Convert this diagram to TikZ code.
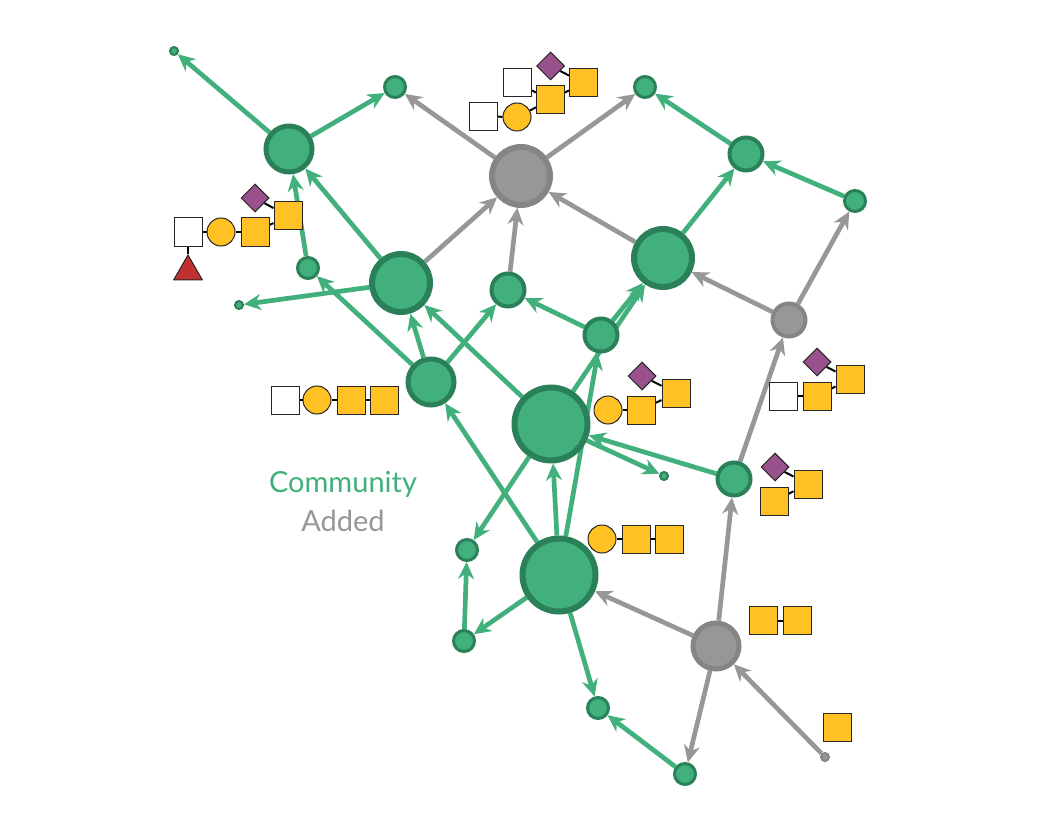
\documentclass[tikz,border=0pt]{standalone}
\usepackage{fontspec}
\setmainfont{Lato}
\usetikzlibrary{arrows.meta,shapes.geometric,backgrounds}
\definecolor{cgreen}{HTML}{41B07C}
\definecolor{cdark}{HTML}{2A8058}
\definecolor{cgray}{HTML}{979797}
\definecolor{cgraydk}{HTML}{858585}
\definecolor{cyel}{HTML}{FFC124}
\definecolor{cpur}{HTML}{98518A}
\definecolor{cred}{HTML}{C0302F}
\tikzset{
 net/.style={circle,draw,inner sep=0pt},
 comm/.style={net,fill=cgreen,draw=cdark},
 addd/.style={net,fill=cgray,draw=cgraydk},
 szxs/.style={minimum size=8pt,line width=2pt},
 szs/.style={minimum size=21pt,line width=3pt},
 szm/.style={minimum size=33pt,line width=4pt},
 szl/.style={minimum size=46pt,line width=5pt},
 szxl/.style={minimum size=58pt,line width=6pt},
 szxx/.style={minimum size=73pt,line width=6pt},
 eg/.style={draw=cgreen,line width=4.7pt,-{Stealth[length=17pt,width=16pt,inset=5.5pt]}},
 ea/.style={draw=cgray,line width=4.7pt,-{Stealth[length=17pt,width=16pt,inset=5.5pt]}},
 sug/.style={draw=black!85,line width=1pt,inner sep=0pt},
 wsq/.style={sug,rectangle,fill=white,minimum size=28pt},
 ysq/.style={sug,rectangle,fill=cyel,minimum size=28pt},
 ycl/.style={sug,circle,fill=cyel,minimum size=28pt},
 pdi/.style={sug,diamond,fill=cpur,minimum size=28pt},
 rtr/.style={sug,regular polygon,regular polygon sides=3,fill=cred,minimum size=33pt},
 bond/.style={draw=black,line width=2pt},
 lab/.style={font=\fontsize{29}{32}\selectfont},
}
\begin{document}
\begin{tikzpicture}[x=1pt,y=-1pt]
\useasboundingbox (0,0) rectangle (1044,821);
% network nodes
\node[comm,szxs] (a) at (174,51) {};
\node[comm,szl] (b) at (289,149) {};
\node[comm,szs] (c) at (395,87) {};
\node[addd,szxl] (d) at (521,176) {};
\node[comm,szs] (e) at (645,87) {};
\node[comm,szm] (f) at (746,154) {};
\node[comm,szs] (g) at (855,201) {};
\node[comm,szxl] (h) at (663,258) {};
\node[addd,szm] (i) at (789,320) {};
\node[comm,szm] (j) at (601,335) {};
\node[comm,szm] (k) at (508,290) {};
\node[comm,szxl] (l) at (401,283) {};
\node[comm,szs] (m) at (308,268) {};
\node[comm,szxs] (n) at (239,305) {};
\node[comm,szl] (o) at (431,382) {};
\node[comm,szxx] (p) at (551,424) {};
\node[comm,szxs] (q) at (664,476) {};
\node[comm,szm] (r) at (734,479) {};
\node[comm,szs] (s) at (467,550) {};
\node[comm,szxx] (t) at (559,575) {};
\node[comm,szs] (u) at (464,641) {};
\node[addd,szl] (v) at (716,646) {};
\node[comm,szs] (w) at (598,708) {};
\node[comm,szs] (x) at (685,774) {};
\node[addd,szxs] (y) at (825,757) {};
% sugars
\node[wsq] (g1a) at (188,232) {};
\node[ycl] (g1b) at (221,232) {};
\node[ysq] (g1c) at (255,232) {};
\node[ysq] (g1d) at (288,216) {};
\node[pdi] (g1e) at (255,198) {};
\node[rtr] (g1f) at (188,271.5) {};
\node[wsq] (g2a) at (483.5,116.5) {};
\node[ycl] (g2b) at (517,117) {};
\node[ysq] (g2c) at (550.5,100) {};
\node[ysq] (g2d) at (583.5,83) {};
\node[wsq] (g2e) at (517.5,83) {};
\node[pdi] (g2f) at (550.5,66) {};
\node[wsq] (g3a) at (285,400) {};
\node[ycl] (g3b) at (317,400) {};
\node[ysq] (g3c) at (351,400) {};
\node[ysq] (g3d) at (384,400) {};
\node[ycl] (g4a) at (608,410) {};
\node[ysq] (g4b) at (641,410) {};
\node[ysq] (g4c) at (676,393) {};
\node[pdi] (g4d) at (642,376) {};
\node[wsq] (g5a) at (783,396) {};
\node[ysq] (g5b) at (817,396) {};
\node[ysq] (g5c) at (850,379) {};
\node[pdi] (g5d) at (817,362) {};
\node[pdi] (g6a) at (775,467) {};
\node[ysq] (g6b) at (808,484) {};
\node[ysq] (g6c) at (774,501) {};
\node[ycl] (g7a) at (602,539) {};
\node[ysq] (g7b) at (636,539) {};
\node[ysq] (g7c) at (669.5,539) {};
\node[ysq] (g8a) at (763,620.5) {};
\node[ysq] (g8b) at (797,620.5) {};
\node[ysq] (g9a) at (837.5,727) {};
% labels
\node[lab,text=cgreen] (lc) at (343,484) {Community};
\node[lab,text=cgray] (la) at (343,521) {Added};
\begin{scope}[on background layer]
\draw[eg] (b) -- (a);
\draw[eg] (b) -- (c);
\draw[ea] (d) -- (c);
\draw[ea] (d) -- (e);
\draw[eg] (f) -- (e);
\draw[eg] (g) -- (f);
\draw[eg] (h) -- (f);
\draw[ea] (h) -- (d);
\draw[ea] (l) -- (d);
\draw[ea] (k) -- (d);
\draw[eg] (l) -- (b);
\draw[eg] (m) -- (b);
\draw[eg] (l) -- (n);
\draw[eg] (o) -- (m);
\draw[eg] (o) -- (l);
\draw[eg] (o) -- (k);
\draw[eg] (p) -- (l);
\draw[eg] (p) -- (h);
\draw[eg] (j) -- (h);
\draw[eg] (j) -- (k);
\draw[eg] (t) -- (j);
\draw[eg] (t) -- (p);
\draw[eg] (t) -- (o);
\draw[eg] (p) -- (s);
\draw[eg] (u) -- (s);
\draw[eg] (t) -- (u);
\draw[eg] (t) -- (w);
\draw[eg] (x) -- (w);
\draw[ea] (v) -- (t);
\draw[ea] (v) -- (x);
\draw[ea] (y) -- (v);
\draw[ea] (v) -- (r);
\draw[eg] (r) -- (p);
\draw[eg] (p) -- (q);
\draw[ea] (r) -- (i);
\draw[ea] (i) -- (h);
\draw[ea] (i) -- (g);
% bonds
\draw[bond] (g1a) -- (g1b);
\draw[bond] (g1b) -- (g1c);
\draw[bond] (g1c) -- (g1d);
\draw[bond] (g1e) -- (g1d);
\draw[bond] (g1a) -- (g1f);
\draw[bond] (g2a) -- (g2b);
\draw[bond] (g2b) -- (g2c);
\draw[bond] (g2c) -- (g2d);
\draw[bond] (g2e) -- (g2c);
\draw[bond] (g2f) -- (g2d);
\draw[bond] (g3a) -- (g3b);
\draw[bond] (g3b) -- (g3c);
\draw[bond] (g3c) -- (g3d);
\draw[bond] (g4a) -- (g4b);
\draw[bond] (g4b) -- (g4c);
\draw[bond] (g4d) -- (g4c);
\draw[bond] (g5a) -- (g5b);
\draw[bond] (g5b) -- (g5c);
\draw[bond] (g5d) -- (g5c);
\draw[bond] (g6a) -- (g6b);
\draw[bond] (g6c) -- (g6b);
\draw[bond] (g7a) -- (g7b);
\draw[bond] (g7b) -- (g7c);
\draw[bond] (g8a) -- (g8b);
\end{scope}
\end{tikzpicture}
\end{document}
